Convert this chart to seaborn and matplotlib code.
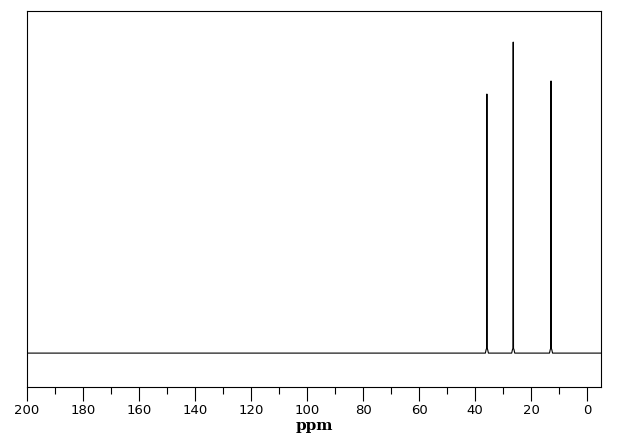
import pandas as pd
import matplotlib
matplotlib.use("Agg")
import matplotlib.pyplot as plt
import seaborn as sns
from matplotlib.ticker import MultipleLocator

# 13C spectrum trace (ppm, relative intensity)
ppm = [200.0, 36.3, 36.0, 35.85, 35.75, 35.65, 35.5, 35.2,
       26.9, 26.6, 26.45, 26.35, 26.25, 26.1, 25.8,
       13.4, 13.1, 12.95, 12.85, 12.75, 12.6, 12.3, -5.0]
intensity = [0.0, 0.0, 1.2, 1.5, 83.3, 1.5, 1.2, 0.0,
             0.0, 1.2, 1.5, 100.0, 1.5, 1.2, 0.0,
             0.0, 1.2, 1.5, 87.5, 1.5, 1.2, 0.0, 0.0]
major_ticks = [200, 180, 160, 140, 120, 100, 80, 60, 40, 20, 0]

df = pd.DataFrame({"ppm": ppm, "intensity": intensity})

sns.set_style("ticks", {"text.color": "black", "xtick.color": "black",
                        "axes.labelcolor": "black", "axes.edgecolor": "black"})
plt.rcParams["font.family"] = ["DejaVu Sans"]

fig = plt.figure(figsize=(6.22, 4.44), dpi=100)
ax = fig.add_axes([27 / 622, 57 / 444, 574 / 622, 376 / 444])

sns.lineplot(data=df, x="ppm", y="intensity", ax=ax, color="black",
             linewidth=0.8, sort=False, estimator=None)

ax.set_xlim(200, -5)
ax.set_ylim(-10.9, 110.0)
ax.set_xticks(major_ticks)
ax.xaxis.set_minor_locator(MultipleLocator(10))
ax.set_yticks([])
ax.set_ylabel("")
ax.tick_params(axis="x", which="major", length=10, width=0.8, color="black",
               labelcolor="black", labelsize=9.5, pad=2)
ax.tick_params(axis="x", which="minor", length=5, width=0.8, color="black")
for s in ax.spines.values():
    s.set_visible(True)
    s.set_color("black")
    s.set_linewidth(0.8)
ax.set_xlabel("ppm", fontfamily="serif", fontweight="bold", fontsize=11,
              color="black", labelpad=2)

fig.savefig("out.png", dpi=100)
